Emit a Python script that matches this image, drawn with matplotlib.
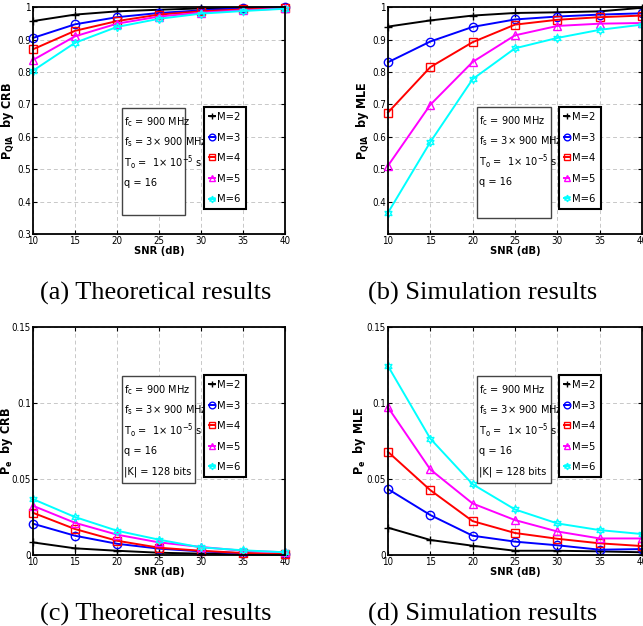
import matplotlib
matplotlib.use('Agg')
import matplotlib.pyplot as plt
from matplotlib.patches import Rectangle

plt.rcParams['font.family'] = ['DejaVu Sans']
plt.rcParams['font.stretch'] = 'condensed'
plt.rcParams['mathtext.fontset'] = 'custom'
plt.rcParams['mathtext.rm'] = 'DejaVu Sans'
plt.rcParams['mathtext.it'] = 'DejaVu Sans'
plt.rcParams['mathtext.bf'] = 'DejaVu Sans:bold'

snr = [10, 15, 20, 25, 30, 35, 40]
labels = ['M=2', 'M=3', 'M=4', 'M=5', 'M=6']

# P_QIA by CRB (theoretical)
qia_crb = [
    [0.957, 0.977, 0.987, 0.992, 0.996, 0.998, 0.999],
    [0.905, 0.947, 0.969, 0.982, 0.990, 0.997, 1.000],
    [0.870, 0.927, 0.957, 0.977, 0.987, 0.993, 0.998],
    [0.837, 0.910, 0.949, 0.971, 0.983, 0.990, 0.996],
    [0.804, 0.890, 0.939, 0.964, 0.980, 0.988, 0.995],
]
# P_QIA by MLE (simulation)
qia_mle = [
    [0.940, 0.959, 0.974, 0.982, 0.984, 0.987, 0.998],
    [0.830, 0.894, 0.939, 0.962, 0.971, 0.977, 0.981],
    [0.675, 0.815, 0.892, 0.946, 0.961, 0.969, 0.974],
    [0.511, 0.699, 0.831, 0.913, 0.942, 0.949, 0.951],
    [0.366, 0.584, 0.778, 0.873, 0.905, 0.930, 0.946],
]
# Pe by CRB
pe_crb = [
    [0.0083, 0.0044, 0.0028, 0.0015, 0.0009, 0.0004, 0.0002],
    [0.0206, 0.0127, 0.0074, 0.0042, 0.0024, 0.0011, 0.0004],
    [0.0278, 0.0171, 0.0094, 0.0048, 0.0028, 0.0013, 0.0007],
    [0.0324, 0.0212, 0.0134, 0.0083, 0.0053, 0.0028, 0.0018],
    [0.0368, 0.0250, 0.0160, 0.0101, 0.0050, 0.0031, 0.0018],
]
# Pe by MLE
pe_mle = [
    [0.0180, 0.0099, 0.0061, 0.0028, 0.0028, 0.0024, 0.0018],
    [0.0434, 0.0263, 0.0127, 0.0088, 0.0064, 0.0035, 0.0039],
    [0.0679, 0.0427, 0.0223, 0.0145, 0.0107, 0.0077, 0.0059],
    [0.0972, 0.0563, 0.0339, 0.0230, 0.0155, 0.0109, 0.0109],
    [0.1244, 0.0766, 0.0466, 0.0300, 0.0208, 0.0164, 0.0138],
]

colors = ['black', 'blue', 'red', 'magenta', 'cyan']
markers = ['+', 'o', 's', '^', (6, 1, 0)]

params = [r'f$_{\rm c}$ = 900 MHz', r'f$_{\rm s}$ = 3$\times$ 900 MHz',
          r'T$_{\rm o}$ =  1$\times$ 10$^{-5}$ s', 'q = 16']
params_k = params + ['|K| = 128 bits']

fig = plt.figure(figsize=(6.43, 6.26), dpi=100)

panels = [
    # rect, data, ylim, yticks, ylabel, ylabel x, caption, caption x, param lines, boxes
    ([0.0513, 0.626, 0.392, 0.3626], qia_crb, (0.3, 1.0), [0.3, 0.4, 0.5, 0.6, 0.7, 0.8, 0.9, 1.0],
     r'$\mathbf{P_{QIA}}$  by CRB', -0.068, '(a) Theoretical results', 0.2426, params,
     (0.353, 0.084, 0.25, 0.471), (0.679, 0.084, 0.131, 0.475)),
    ([0.6034, 0.626, 0.395, 0.3626], qia_mle, (0.3, 1.0), [0.4, 0.5, 0.6, 0.7, 0.8, 0.9, 1.0],
     r'$\mathbf{P_{QIA}}$  by MLE', -0.065, '(b) Simulation results', 0.751, params,
     (0.35, 0.07, 0.29, 0.49), (0.673, 0.12, 0.122, 0.44)),
    ([0.0513, 0.1134, 0.392, 0.364], pe_crb, (0.0, 0.15), [0, 0.05, 0.1, 0.15],
     r'$\mathbf{P_{e}}$  by CRB', -0.07, '(c) Theoretical results', 0.2426, params_k,
     (0.353, 0.316, 0.29, 0.469), (0.679, 0.316, 0.131, 0.474)),
    ([0.6034, 0.1134, 0.395, 0.364], pe_mle, (0.0, 0.15), [0, 0.05, 0.1, 0.15],
     r'$\mathbf{P_{e}}$  by MLE', -0.08, '(d) Simulation results', 0.751, params_k,
     (0.35, 0.316, 0.29, 0.469), (0.673, 0.316, 0.122, 0.474)),
]

for rect, data, ylim, yticks, ylabel, ylx, caption, capx, lines, tbox, lbox in panels:
    ax = fig.add_axes(rect)
    handles = []
    for vals, c, m, lab in zip(data, colors, markers, labels):
        h, = ax.plot(snr, vals, color=c, marker=m, markersize=6, markerfacecolor='none',
                     markeredgewidth=1.0, linewidth=1.4, label=lab, clip_on=False)
        handles.append(h)
    ax.set_xlim(10, 40)
    ax.set_ylim(*ylim)
    ax.set_xticks(snr)
    ax.set_yticks(yticks)
    ax.set_yticklabels(['%g' % t for t in yticks])
    ax.tick_params(direction='in', labelsize=7, length=3, top=True, right=True, pad=1.5)
    ax.grid(True, color='#c8c8c8', linestyle=(0, (4, 3)), linewidth=0.7)
    for s in ax.spines.values():
        s.set_linewidth(1.3)
    ax.set_xlabel('SNR (dB)', fontsize=8, fontweight='bold', labelpad=0)
    ax.set_ylabel(ylabel, fontsize=9, fontweight='bold')
    ax.yaxis.set_label_coords(ylx, 0.5)

    # parameter text box
    ax.add_patch(Rectangle((tbox[0], tbox[1]), tbox[2], tbox[3], transform=ax.transAxes,
                           facecolor='white', edgecolor='#444444', linewidth=1.0, zorder=5))
    top = tbox[1] + tbox[3]
    step = 0.09
    for i, t in enumerate(lines):
        ax.text(tbox[0] + 0.01, top - 0.06 - i * step, t, transform=ax.transAxes,
                fontsize=7.8, va='center', ha='left', zorder=6)

    # legend
    leg = ax.legend(handles=handles, loc='upper left',
                    bbox_to_anchor=(lbox[0], lbox[1] + lbox[3]), fontsize=8,
                    handlelength=0.5, handletextpad=0.25, labelspacing=0.95,
                    borderpad=0.45, borderaxespad=0, fancybox=False, framealpha=1,
                    edgecolor='black', markerscale=0.8)
    leg.get_frame().set_linewidth(1.5)
    leg.set_zorder(7)

    fig.text(capx, rect[1] - 0.095, caption, fontsize=19,
             family='Liberation Serif', stretch='normal', ha='center', va='center')

fig.savefig('out.png', dpi=100)
